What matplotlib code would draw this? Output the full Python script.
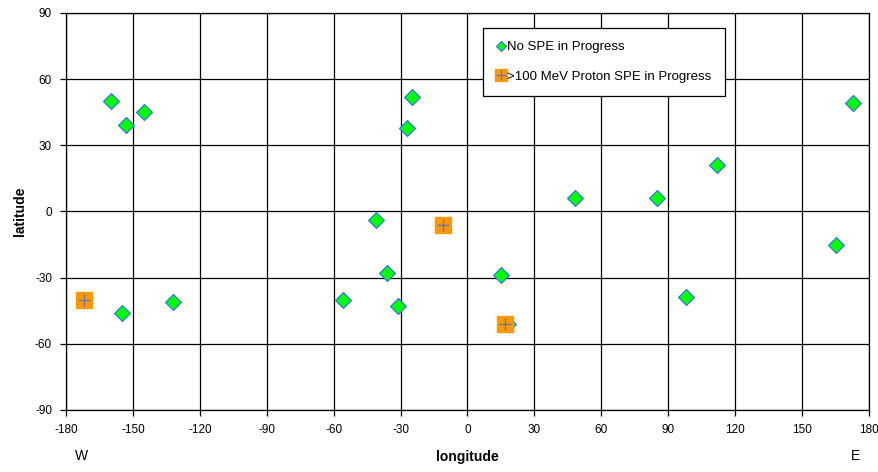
import matplotlib
matplotlib.use("Agg")
import matplotlib.pyplot as plt
from matplotlib.lines import Line2D

plt.rcParams['font.family'] = ['Liberation Sans', 'DejaVu Sans']

no_spe_lon = [-160, -153, -145, -155, -132, -56, -41, -36, -31, -27, -25, 15, 18, 48, 85, 98, 112, 165, 173]
no_spe_lat = [50, 39, 45, -46, -41, -40, -4, -28, -43, 38, 52, -29, -51, 6, 6, -39, 21, -15, 49]
spe_lon = [-172, -11, 17]
spe_lat = [-40, -6, -51]

xticks = list(range(-180, 181, 30))
yticks = list(range(-90, 91, 30))

fig = plt.figure(figsize=(8.79, 4.72), dpi=100)
ax = fig.add_axes([0.0751, 0.1314, 0.9135, 0.8411])

ax.set_xlim(-180, 180)
ax.set_ylim(-90, 90)
ax.set_xticks(xticks)
ax.set_yticks(yticks)
ax.set_xticklabels([str(t) for t in xticks], fontsize=8.5)
ax.set_yticklabels([str(t) for t in yticks], fontsize=8.5)
ax.grid(True, color='black', linewidth=0.9)
ax.set_axisbelow(True)
ax.tick_params(direction='out', length=4, width=0.9, color='black', pad=6)
for s in ax.spines.values():
    s.set_color('black')
    s.set_linewidth(0.9)

ax.plot(no_spe_lon, no_spe_lat, linestyle='none', marker='D', markersize=8,
        markerfacecolor='#00FF00', markeredgecolor='#3366FF', markeredgewidth=0.8, zorder=3)
ax.plot(spe_lon, spe_lat, linestyle='none', marker='s', markersize=11,
        markerfacecolor='#FF9900', markeredgecolor='#FF9900', zorder=4)
ax.plot(spe_lon, spe_lat, linestyle='none', marker='+', markersize=9,
        markeredgecolor='#6677AA', markeredgewidth=1.0, zorder=5)

ax.set_ylabel('latitude', fontsize=10, fontweight='bold', labelpad=6)
ax.set_xlabel('longitude', fontsize=10, fontweight='bold', labelpad=10)

fig.text(82/879, 1 - 456/472, 'W', fontsize=10, ha='center', va='center')
fig.text(856/879, 1 - 456/472, 'E', fontsize=10, ha='center', va='center')

h1 = Line2D([], [], linestyle='none', marker='D', markersize=5,
            markerfacecolor='#00FF00', markeredgecolor='#3366FF', markeredgewidth=0.8)
h2a = Line2D([], [], linestyle='none', marker='s', markersize=8,
             markerfacecolor='#FF9900', markeredgecolor='#FF9900')
h2b = Line2D([], [], linestyle='none', marker='+', markersize=7,
             markeredgecolor='#6677AA', markeredgewidth=1.0)
leg = ax.legend([h1, (h2a, h2b)], ['No SPE in Progress', '>100 MeV Proton SPE in Progress'],
                loc='upper left', bbox_to_anchor=((483 - 66) / 803, 1 - (28 - 13) / 397),
                fontsize=9.5, frameon=True, fancybox=False, edgecolor='black',
                framealpha=1, borderpad=1.0, labelspacing=1.3, handlelength=0.8,
                handletextpad=0.05, borderaxespad=0)
leg.get_frame().set_linewidth(0.9)

fig.savefig('out.png', dpi=100)
